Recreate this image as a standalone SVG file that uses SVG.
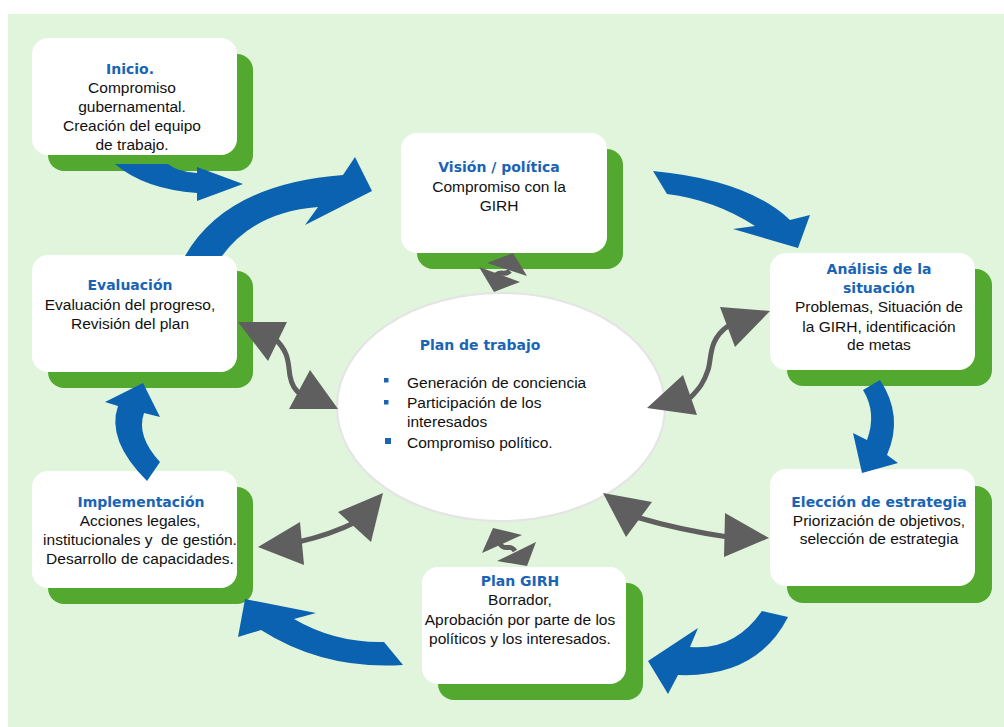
<svg xmlns="http://www.w3.org/2000/svg" width="1004" height="727" viewBox="0 0 1004 727">
<style>
.bg{fill:#E0F5DB}
.sh{fill:#53A930}
.bx{fill:#FFFFFF}
.h{font-family:"DejaVu Sans",Verdana,sans-serif;font-weight:bold;font-size:14px;fill:#1A64B6;text-anchor:middle}
.t{font-family:"Liberation Sans",Arial,sans-serif;font-size:15.5px;fill:#111111;text-anchor:middle}
.ts{font-family:"Liberation Sans",Arial,sans-serif;font-size:15.5px;fill:#111111}
.blue{fill:#0B62B0}
.gh{fill:#5F5F5F}
.gs{fill:none;stroke:#5F5F5F;stroke-width:5}
.bul{fill:#1A64B6}
</style>
<defs>
<clipPath id="clipInicio"><rect x="32" y="38" width="205" height="117.5" rx="16"/></clipPath>
</defs>
<rect x="0" y="0" width="1004" height="727" fill="#FFFFFF"/>
<rect class="bg" x="8" y="14" width="996" height="713"/>

<g id="node-inicio">
<rect class="sh" x="48" y="54" width="205" height="117" rx="16"/>
<rect class="bx" x="32" y="38" width="205" height="117" rx="16"/>
<g clip-path="url(#clipInicio)">
<text class="h" x="130" y="74">Inicio.</text>
<text class="t" x="132" y="93">Compromiso</text>
<text class="t" x="132" y="112">gubernamental.</text>
<text class="t" x="132" y="131">Creación del equipo</text>
<text class="t" x="132" y="150">de trabajo.</text>
</g>
</g>

<g id="node-vision">
<rect class="sh" x="417" y="149" width="206" height="120" rx="16"/>
<rect class="bx" x="401" y="133" width="206" height="120" rx="16"/>
<text class="h" x="499" y="172">Visión / política</text>
<text class="t" x="499" y="192">Compromiso con la</text>
<text class="t" x="499" y="211">GIRH</text>
</g>

<g id="node-analisis">
<rect class="sh" x="787" y="269" width="205" height="117" rx="16"/>
<rect class="bx" x="770" y="253" width="205" height="117" rx="16"/>
<text class="h" x="879" y="274">Análisis de la</text>
<text class="h" x="879" y="293">situación</text>
<text class="t" x="879" y="312">Problemas, Situación de</text>
<text class="t" x="879" y="332">la GIRH, identificación</text>
<text class="t" x="879" y="350">de metas</text>
</g>

<g id="node-eleccion">
<rect class="sh" x="787" y="486" width="205" height="117" rx="16"/>
<rect class="bx" x="770" y="469" width="205" height="117" rx="16"/>
<text class="h" x="879" y="507">Elección de estrategia</text>
<text class="t" x="879" y="526">Priorización de objetivos,</text>
<text class="t" x="879" y="544">selección de estrategia</text>
</g>

<g id="node-plan-girh">
<rect class="sh" x="438" y="583" width="205" height="117" rx="16"/>
<rect class="bx" x="422" y="567" width="204" height="117" rx="16"/>
<text class="h" x="520" y="586">Plan GIRH</text>
<text class="t" x="520" y="605">Borrador,</text>
<text class="t" x="520" y="625">Aprobación por parte de los</text>
<text class="t" x="520" y="644">políticos y los interesados.</text>
</g>

<g id="node-implementacion">
<rect class="sh" x="48" y="487" width="205" height="117" rx="16"/>
<rect class="bx" x="32" y="471" width="205" height="117" rx="16"/>
<text class="h" x="141" y="507">Implementación</text>
<text class="t" x="140" y="526">Acciones legales,</text>
<text class="t" x="140" y="545" style="white-space:pre">institucionales y  de gestión.</text>
<text class="t" x="140" y="564">Desarrollo de capacidades.</text>
</g>

<g id="node-evaluacion">
<rect class="sh" x="48" y="271" width="205" height="117" rx="16"/>
<rect class="bx" x="32" y="255" width="205" height="117" rx="16"/>
<text class="h" x="130" y="290">Evaluación</text>
<text class="t" x="130" y="310">Evaluación del progreso,</text>
<text class="t" x="130" y="329">Revisión del plan</text>
</g>

<g id="node-plan-trabajo">
<ellipse cx="501" cy="407" rx="164" ry="114" fill="#FFFFFF" stroke="#E4E4E4" stroke-width="2"/>
<text class="h" x="480" y="350">Plan de trabajo</text>
<rect class="bul" x="384" y="378" width="4.5" height="4.5"/>
<text class="ts" x="407" y="388">Generación de conciencia</text>
<rect class="bul" x="384" y="400" width="4.5" height="4.5"/>
<text class="ts" x="407" y="408">Participación de los</text>
<text class="ts" x="407" y="427">interesados</text>
<rect class="bul" x="385" y="438" width="6" height="6"/>
<text class="ts" x="407" y="448">Compromiso político.</text>
</g>

<g id="connectors">
<!-- blue cycle arrows -->
<path class="blue" d="M115,164 Q144,189 197,193 L197,201 L243,184 L197,167 L197,173 Q178,172 168,164 Z"/>
<path class="blue" d="M185,256 Q226,184 343,175 L355,157 L372,191 L305,225 L318,207 Q254,212 222,256 Z"/>
<path class="blue" d="M653,171 Q748,180 790,220 L810,215 L798,248 L733,229 L755,226 Q715,200 667,194 Z"/>
<path class="blue" d="M880,380 Q904,416 887,455 L898,463 L862,473 L853,433 L867,440 Q877,413 863,390 Z"/>
<path class="blue" d="M788,617 Q757,678 678,675 L668,694 L648,661 L698,628 L690,647 Q734,651 762,611 Z"/>
<path class="blue" d="M403,665 Q324,670 261,630 L238,637 L245,599 L316,613 L294,619 Q335,643 384,642 Z"/>
<path class="blue" d="M147,481 Q106,440 118,406 L105,402 L143,383 L160,417 L144,413 Q136,436 160,462 Z"/>

<!-- gray double arrows -->
<g id="link-vision">
<path class="gs" stroke-width="4" d="M495,276 C500,270 505,276 510,271"/>
<polygon class="gh" points="487,263 513,253 527,276"/>
<polygon class="gh" points="479,267 520,282 494,292"/>
</g>
<g id="link-analisis">
<path class="gs" d="M728,326 C708,340 712,358 708,370 S700,388 690,398"/>
<polygon class="gh" points="720,307 770,311 735,347"/>
<polygon class="gh" points="683,375 697,415 647,408"/>
</g>
<g id="link-eleccion">
<path class="gs" d="M636,517 Q680,530 728,537"/>
<polygon class="gh" points="603,493 652,502 626,537"/>
<polygon class="gh" points="725,513 769,538 724,557"/>
</g>
<g id="link-plan-girh">
<path class="gs" stroke-width="4" d="M500,544 C505,552 510,543 515,551"/>
<polygon class="gh" points="493,528 522,535 482,553"/>
<polygon class="gh" points="536,542 527,566 497,561"/>
</g>
<g id="link-implementacion">
<path class="gs" d="M298,542 Q330,535 358,521"/>
<polygon class="gh" points="258,547 300,522 304,565"/>
<polygon class="gh" points="338,512 383,493 371,542"/>
</g>
<g id="link-evaluacion">
<path class="gs" d="M274,338 C290,352 288,365 290,376 S296,390 302,396"/>
<polygon class="gh" points="238,322 287,322 268,361"/>
<polygon class="gh" points="310,370 338,409 289,409"/>
</g>
</g>
</svg>
